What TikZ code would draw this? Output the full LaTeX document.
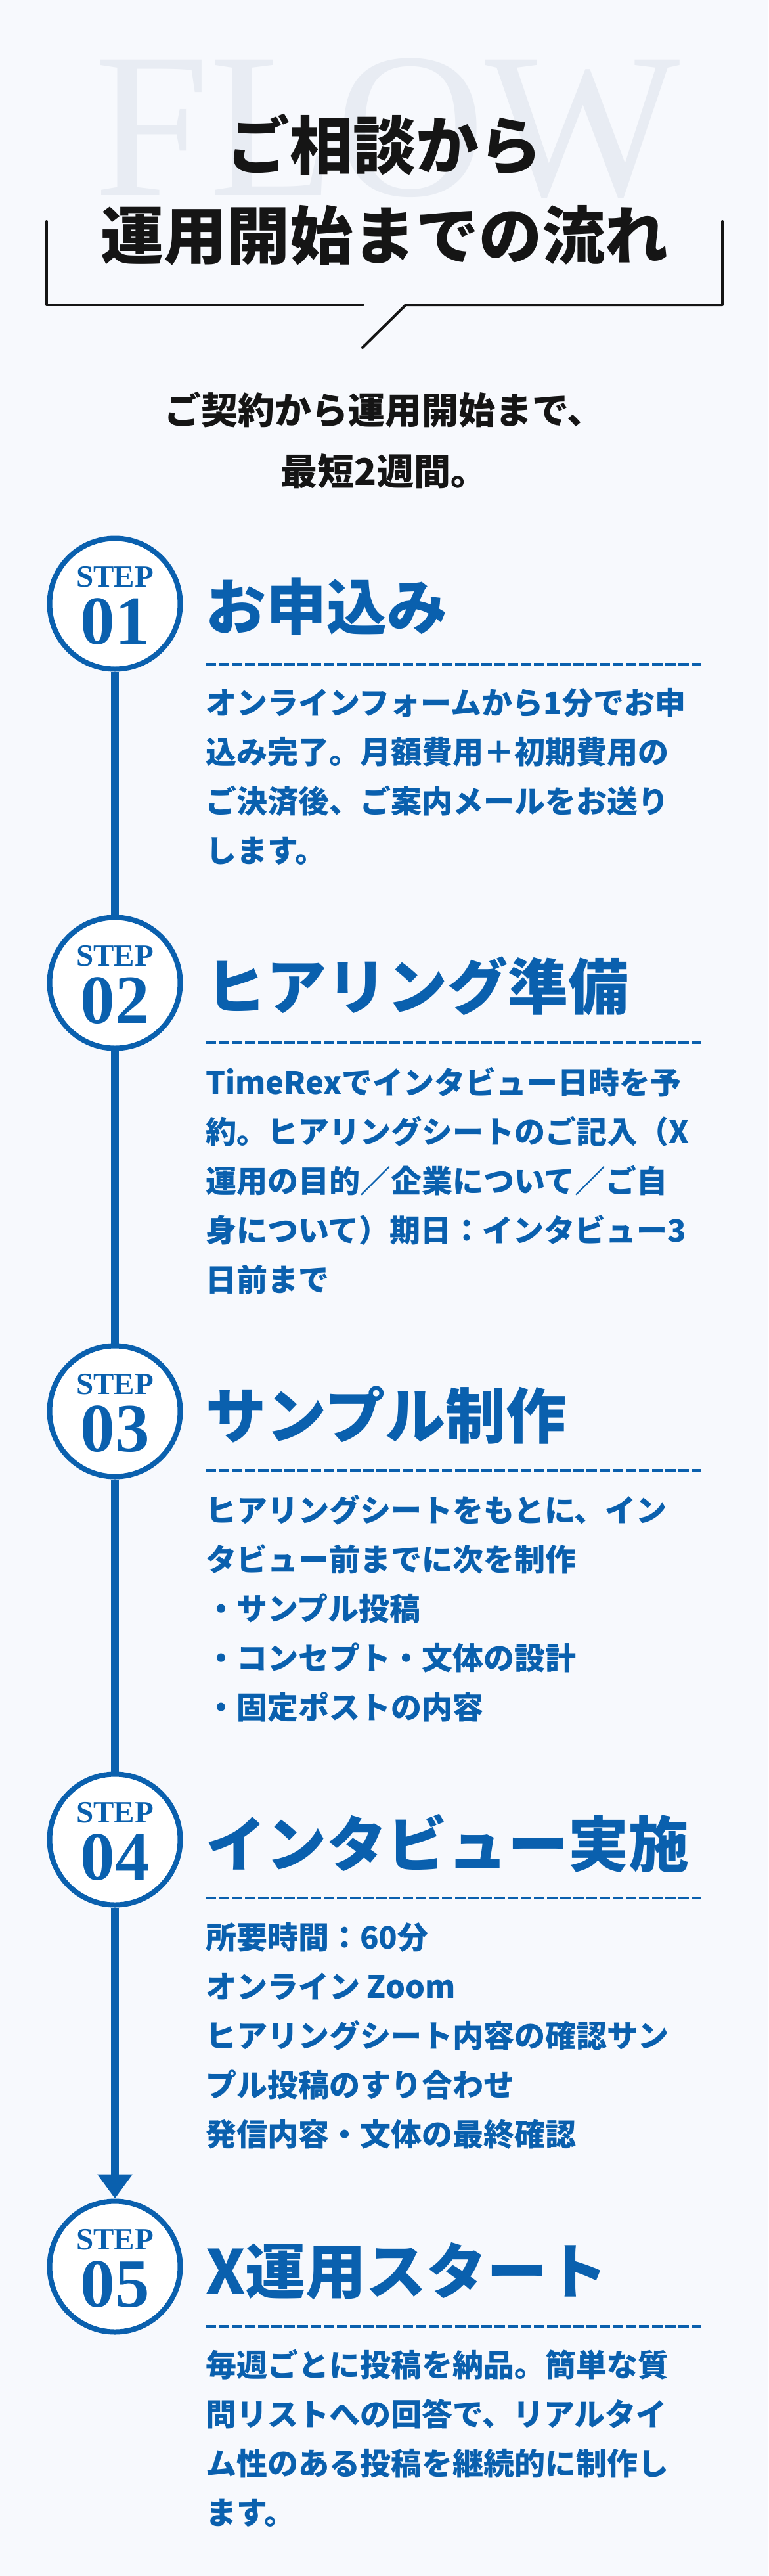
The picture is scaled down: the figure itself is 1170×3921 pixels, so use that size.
\documentclass[tikz,border=0pt]{standalone}
\usepackage{fontspec}
\setmainfont{Liberation Serif}
\newfontfamily\jpfont{Noto Sans CJK JP}
\usetikzlibrary{arrows.meta, positioning}
\definecolor{flowblue}{HTML}{0A60AE}
\definecolor{pagebg}{HTML}{F7F9FD}
\definecolor{flowgray}{HTML}{E8ECF3}
\definecolor{inkblack}{HTML}{151515}

\begin{document}
\begin{tikzpicture}[
    x=1pt, y=-1pt,
    stepcircle/.style={
        circle,
        draw=flowblue,
        line width=8pt,
        fill=white,
        minimum size=199pt,
        inner sep=0pt
    },
    steplabel/.style={
        anchor=base,
        inner sep=0pt,
        text=flowblue,
        font=\bfseries\fontsize{47}{47}\selectfont
    },
    stepnum/.style={
        anchor=base,
        inner sep=0pt,
        text=flowblue,
        font=\bfseries\fontsize{105}{105}\selectfont
    },
    steptitle/.style={
        anchor=west,
        inner sep=0pt,
        text=flowblue,
        font=\jpfont\bfseries\fontsize{92}{92}\selectfont
    },
    stepbody/.style={
        anchor=north west,
        align=left,
        inner sep=0pt,
        text=flowblue,
        font=\jpfont\bfseries\fontsize{47}{75}\selectfont
    },
    sepline/.style={
        draw=flowblue,
        line width=3.5pt,
        dash pattern=on 16pt off 4pt
    },
    flowline/.style={
        draw=flowblue,
        line width=12pt
    },
    bubble/.style={
        draw=inkblack,
        line width=4pt,
        line cap=round,
        line join=round
    }
]

\useasboundingbox (0,0) rectangle (1170,3921);
\fill[pagebg] (0,0) rectangle (1170,3921);

% header
\node[text=flowgray, inner sep=0pt, font=\fontsize{315}{315}\selectfont] (flowbg) at (590,196) {FLOW};
\node[align=center, inner sep=0pt, text=inkblack, font=\jpfont\bfseries\fontsize{96}{137}\selectfont] (headline) at (585,289) {ご相談から\\運用開始までの流れ};

\draw[bubble] (71,337) -- (71,464) -- (553,464);
\draw[bubble] (552,529) -- (618,464) -- (1100,464) -- (1100,337);

\node[align=center, inner sep=0pt, text=inkblack, font=\jpfont\bfseries\fontsize{56}{93}\selectfont] (subline) at (585,670) {ご契約から運用開始まで、\\最短2週間。};

% step circles
\node[stepcircle] (s1) at (175,919)  {};
\node[stepcircle] (s2) at (175,1496) {};
\node[stepcircle] (s3) at (175,2148) {};
\node[stepcircle] (s4) at (175,2800) {};
\node[stepcircle] (s5) at (175,3450) {};

\draw[flowline] (s1) -- (s2);
\draw[flowline] (s2) -- (s3);
\draw[flowline] (s3) -- (s4);
\draw[flowline, -{Triangle[length=37pt, width=51pt]}] (s4) -- (s5);

\node[steplabel] (l1) at (175,893)  {STEP};
\node[stepnum]   (n1) at (175,980)  {01};
\node[steplabel] (l2) at (175,1470) {STEP};
\node[stepnum]   (n2) at (175,1557) {02};
\node[steplabel] (l3) at (175,2122) {STEP};
\node[stepnum]   (n3) at (175,2209) {03};
\node[steplabel] (l4) at (175,2774) {STEP};
\node[stepnum]   (n4) at (175,2861) {04};
\node[steplabel] (l5) at (175,3424) {STEP};
\node[stepnum]   (n5) at (175,3511) {05};

% step 01
\node[steptitle] (t1) at (313,924) {お申込み};
\draw[sepline] (313,1011) -- (1067,1011);
\node[stepbody] (b1) at (313,1047) {オンラインフォームから1分でお申\\込み完了。月額費用＋初期費用の\\ご決済後、ご案内メールをお送り\\します。};

% step 02
\node[steptitle] (t2) at (313,1501) {ヒアリング準備};
\draw[sepline] (313,1587) -- (1067,1587);
\node[stepbody] (b2) at (313,1624) {TimeRexでインタビュー日時を予\\約。ヒアリングシートのご記入（X\\運用の目的／企業について／ご自\\身について）期日：インタビュー3\\日前まで};

% step 03
\node[steptitle] (t3) at (313,2154) {サンプル制作};
\draw[sepline] (313,2238) -- (1067,2238);
\node[stepbody] (b3) at (313,2275) {ヒアリングシートをもとに、イン\\タビュー前までに次を制作\\・サンプル投稿\\・コンセプト・文体の設計\\・固定ポストの内容};

% step 04
\node[steptitle] (t4) at (313,2806) {インタビュー実施};
\draw[sepline] (313,2889) -- (1067,2889);
\node[stepbody] (b4) at (313,2926) {所要時間：60分\\オンライン Zoom\\ヒアリングシート内容の確認サン\\プル投稿のすり合わせ\\発信内容・文体の最終確認};

% step 05
\node[steptitle] (t5) at (313,3457) {X運用スタート};
\draw[sepline] (313,3541) -- (1067,3541);
\node[stepbody] (b5) at (313,3576) {毎週ごとに投稿を納品。簡単な質\\問リストへの回答で、リアルタイ\\ム性のある投稿を継続的に制作し\\ます。};

\end{tikzpicture}
\end{document}
